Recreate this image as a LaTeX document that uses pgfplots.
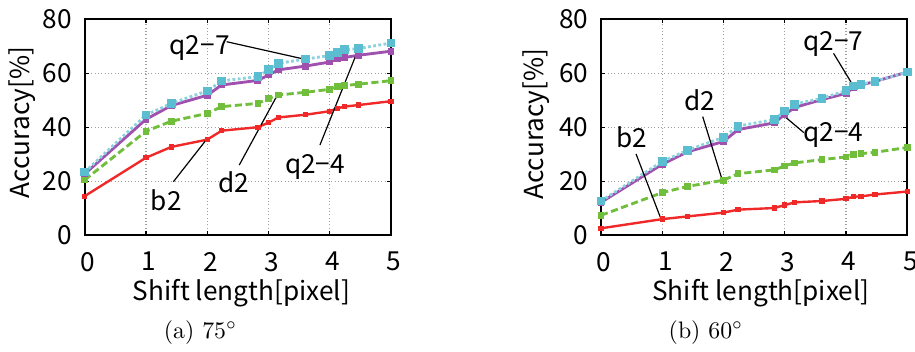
\documentclass[border=0pt]{standalone}
\usepackage{fontspec}
\usepackage{pgfplots}
\usepackage{pgfplotstable}
\pgfplotsset{compat=1.18}
\newfontfamily\plotfont{Noto Sans CJK JP}

\definecolor{cq7}{RGB}{90,190,208}
\definecolor{cq7l}{RGB}{140,210,222}
\definecolor{cq4}{RGB}{160,80,175}
\definecolor{cd2}{RGB}{112,190,60}
\definecolor{cb2}{RGB}{240,40,40}

\pgfplotstableread{
x      b2   d2   q24  q27
0      14.5 20.5 22.7 23.4
1      28.7 38.5 42.9 44.5
1.414  32.7 42.2 48.0 48.8
2      35.4 45.1 51.8 53.4
2.236  38.7 47.6 55.6 57.1
2.828  40.0 48.8 57.3 58.7
3      41.7 50.6 59.3 61.2
3.162  43.6 51.9 61.2 63.6
3.606  44.6 52.9 62.6 65.2
4      45.9 54.0 64.1 66.5
4.123  47.0 55.0 65.2 67.7
4.243  47.6 55.4 65.8 68.6
4.472  48.2 55.9 66.6 69.1
5      49.6 57.2 68.1 71.1
}\tabA

\pgfplotstableread{
x      b2   d2   q24  q27
0      2.6  7.4  12.2 12.7
1      6.0  15.8 26.3 27.3
1.414  7.0  18.1 30.9 31.5
2      8.4  20.4 34.7 36.3
2.236  9.5  22.8 39.1 40.4
2.828  10.1 24.2 41.6 42.8
3      11.2 25.7 44.7 46.0
3.162  12.2 26.8 47.3 48.5
3.606  12.7 28.0 50.2 50.7
4      13.5 29.0 52.5 53.5
4.123  14.3 29.9 54.7 55.2
4.243  14.4 30.2 55.6 55.9
4.472  15.1 30.7 56.9 56.9
5      16.2 32.5 60.4 60.4
}\tabB

\tikzset{ann/.style={anchor=base, inner sep=0pt, black}}

\pgfplotsset{
  myax/.style={
    scale only axis,
    width=128.65pt, height=90.86pt,
    anchor=south west,
    xmin=0, xmax=5, ymin=0, ymax=80,
    xtick={0,1,2,3,4,5}, ytick={0,20,40,60,80},
    grid=major,
    major grid style={densely dotted, gray!75, line width=0.5pt},
    tick align=inside, major tick length=1.7pt,
    tick style={black, line width=0.5pt},
    axis line style={line width=0.8pt},
    font=\plotfont\fontsize{11}{13}\selectfont,
    /pgf/number format/assume math mode=true,
    yticklabel style={inner sep=0pt, anchor=east, xshift=-5.1pt},
    xticklabel style={inner sep=0pt, anchor=north, yshift=-6.8pt, xshift=1.3pt},
    xlabel={Shift length[pixel]},
    ylabel={Accuracy[\%]},
  },
  sb2/.style={cb2, line width=1.0pt, mark=square*, mark size=0.6pt, mark options={solid}},
  sd2/.style={cd2, line width=1.2pt, dash pattern=on 3pt off 1.5pt, mark=square*, mark size=0.8pt, mark options={solid}},
  sq4/.style={cq4, line width=1.2pt, mark=square*, mark size=0.85pt, mark options={solid}},
  sq7/.style={cq7l, line width=1.2pt, densely dotted, mark=square*, mark size=1.25pt, mark options={solid, fill=cq7, draw=cq7}},
}

\begin{document}
\begin{tikzpicture}
\path[use as bounding box] (0,0) rectangle (384.3pt,-147.42pt);

% (a)
\begin{axis}[myax, at={(35.57pt,-98.84pt)},
  xlabel style={at={(axis description cs:0.512,-0.302)}, anchor=base, inner sep=0pt},
  ylabel style={at={(axis description cs:-0.1786,0.5216)}, anchor=base, inner sep=0pt}]
\addplot[sb2] table[x=x, y=b2] {\tabA};
\addplot[sd2] table[x=x, y=d2] {\tabA};
\addplot[sq4] table[x=x, y=q24] {\tabA};
\addplot[sq7] table[x=x, y=q27] {\tabA};
\draw[black, line width=0.5pt] (axis cs:2.318,71.6) -- (axis cs:3.596,65.1);
\draw[black, line width=0.5pt] (axis cs:3.84,33.4) -- (axis cs:4.429,66.7);
\draw[black, line width=0.5pt] (axis cs:2.523,26.0) -- (axis cs:3.15,52.1);
\draw[black, line width=0.5pt] (axis cs:1.447,19.8) -- (axis cs:1.98,35.2);
\node[ann] at (axis cs:1.877,66.9) {q2−7};
\node[ann] at (axis cs:3.76,22.9) {q2−4};
\node[ann] at (axis cs:2.437,15.9) {d2};
\node[ann] at (axis cs:1.332,9.1) {b2};
\end{axis}

% (b)
\begin{axis}[myax, at={(252.42pt,-98.84pt)},
  xlabel style={at={(axis description cs:0.522,-0.302)}, anchor=base, inner sep=0pt},
  ylabel style={at={(axis description cs:-0.1885,0.514)}, anchor=base, inner sep=0pt}]
\addplot[sb2] table[x=x, y=b2] {\tabB};
\addplot[sd2] table[x=x, y=d2] {\tabB};
\addplot[sq4] table[x=x, y=q24] {\tabB};
\addplot[sq7] table[x=x, y=q27] {\tabB};
\draw[black, line width=0.5pt] (axis cs:3.796,67.3) -- (axis cs:4.12,55.2);
\draw[black, line width=0.5pt] (axis cs:3.31,38.0) -- (axis cs:2.97,44.5);
\draw[black, line width=0.5pt] (axis cs:1.66,43.9) -- (axis cs:1.97,21.1);
\draw[black, line width=0.5pt] (axis cs:0.572,30.1) -- (axis cs:0.975,6.3);
\node[ann] at (axis cs:3.79,68.2) {q2−7};
\node[ann] at (axis cs:3.796,34.6) {q2−4};
\node[ann] at (axis cs:1.613,46.3) {d2};
\node[ann] at (axis cs:0.507,32.4) {b2};
\end{axis}

\node[anchor=base] at (84.21pt,-141.96pt) {(a) $75^\circ$};
\node[anchor=base] at (296.5pt,-141.96pt) {(b) $60^\circ$};
\end{tikzpicture}
\end{document}
